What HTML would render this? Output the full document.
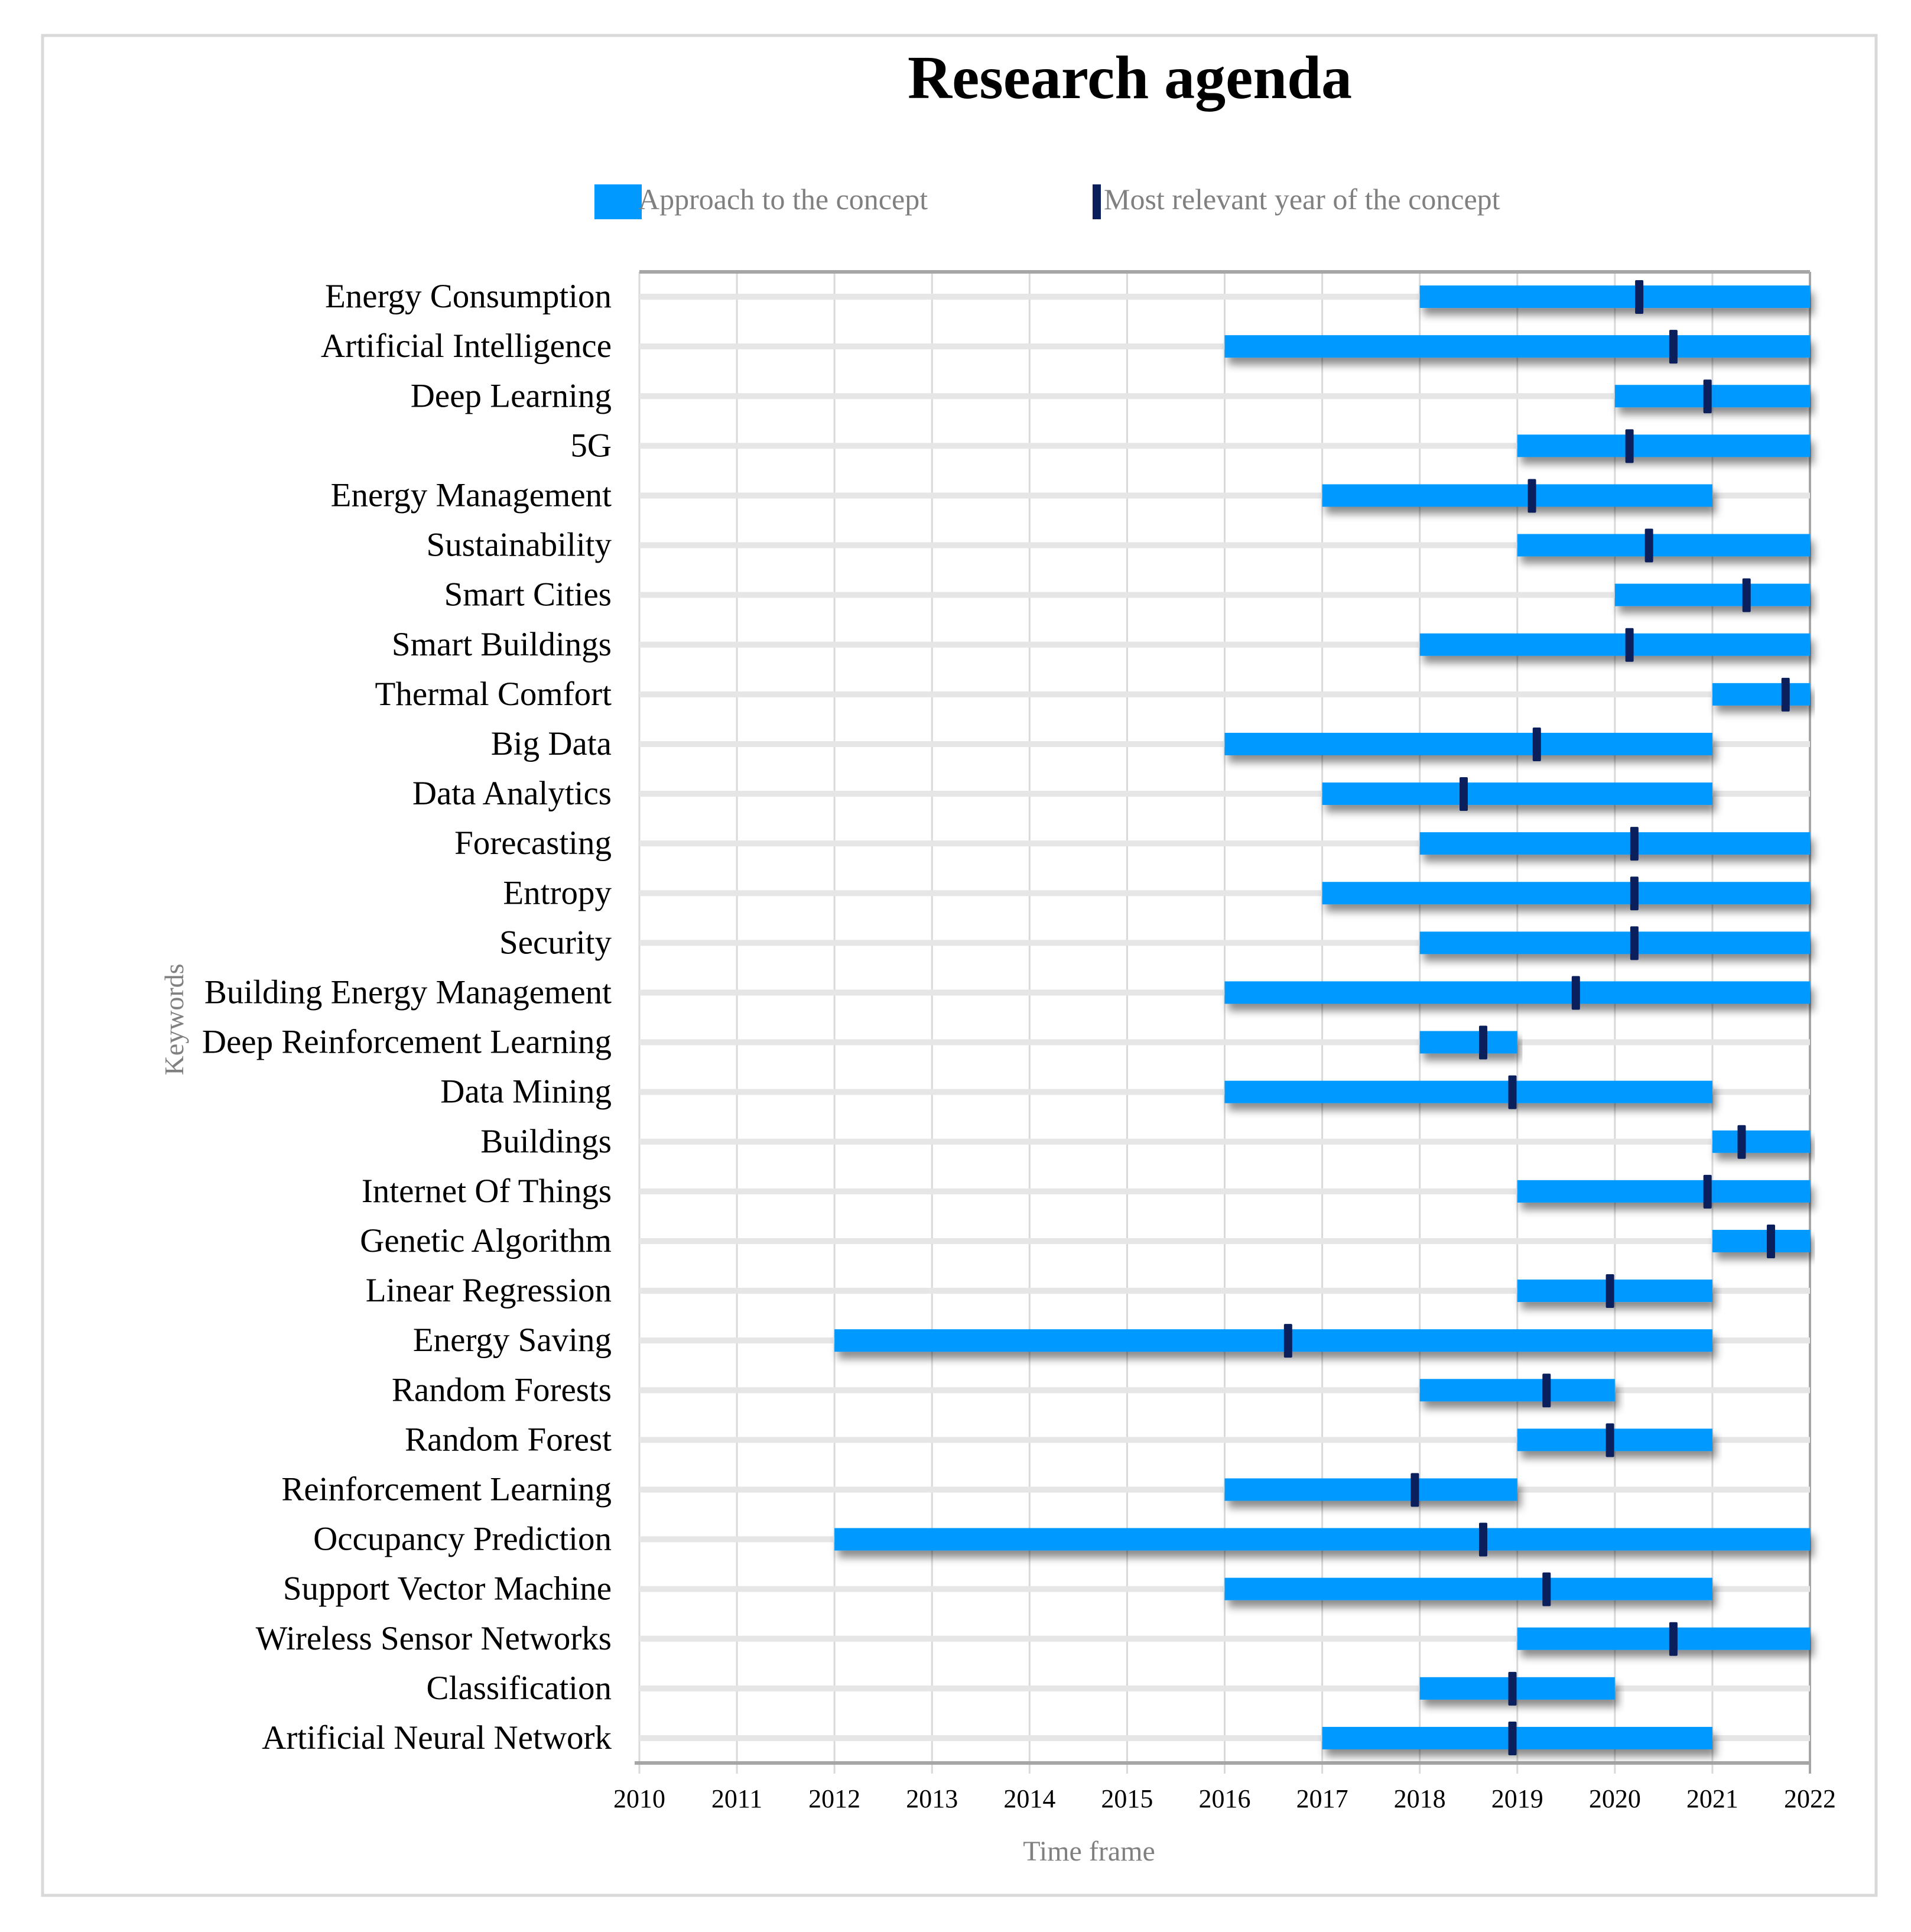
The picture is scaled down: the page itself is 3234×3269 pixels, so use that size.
<!DOCTYPE html>
<html><head><meta charset="utf-8"><style>
html,body{margin:0;padding:0;background:#fff;}
svg{display:block;font-family:"Liberation Serif",serif;}
</style></head><body>
<svg id="chart" width="3234" height="3269" viewBox="0 0 3234 3269" xmlns="http://www.w3.org/2000/svg">
<defs>
<filter id="sh" x="-5%" y="-50%" width="110%" height="250%">
<feDropShadow dx="6" dy="12" stdDeviation="7" flood-color="#000" flood-opacity="0.45"/>
</filter>
</defs>
<rect x="72" y="60" width="3103" height="3147" fill="#fff" stroke="#d9d9d9" stroke-width="5"/>
<text x="1912" y="166" text-anchor="middle" font-size="104" font-weight="bold" fill="#000">Research agenda</text>
<g>
<rect x="1006" y="312" width="80" height="59" fill="#0099ff"/>
<text x="1080" y="354" font-size="50" fill="#808080">Approach to the concept</text>
<rect x="1849" y="312" width="14" height="59" fill="#0a1f5c"/>
<text x="1868" y="354" font-size="50" fill="#808080">Most relevant year of the concept</text>
</g>
<g id="grid"></g>
<g id="bars"></g>
<text x="1843" y="3148" text-anchor="middle" font-size="48" fill="#808080">Time frame</text>
<text transform="translate(310,1725) rotate(-90)" text-anchor="middle" font-size="46" fill="#808080">Keywords</text>
</svg>
<script>
const keywords = ["Energy Consumption","Artificial Intelligence","Deep Learning","5G","Energy Management","Sustainability","Smart Cities","Smart Buildings","Thermal Comfort","Big Data","Data Analytics","Forecasting","Entropy","Security","Building Energy Management","Deep Reinforcement Learning","Data Mining","Buildings","Internet Of Things","Genetic Algorithm","Linear Regression","Energy Saving","Random Forests","Random Forest","Reinforcement Learning","Occupancy Prediction","Support Vector Machine","Wireless Sensor Networks","Classification","Artificial Neural Network"];
const startYears = [2018,2016,2020,2019,2017,2019,2020,2018,2021,2016,2017,2018,2017,2018,2016,2018,2016,2021,2019,2021,2019,2012,2018,2019,2016,2012,2016,2019,2018,2017];
const endYears = [2022,2022,2022,2022,2021,2022,2022,2022,2022,2021,2021,2022,2022,2022,2022,2019,2021,2022,2022,2022,2021,2021,2020,2021,2019,2022,2021,2022,2020,2021];
const relevantYears = [2020.25,2020.6,2020.95,2020.15,2019.15,2020.35,2021.35,2020.15,2021.75,2019.2,2018.45,2020.2,2020.2,2020.2,2019.6,2018.65,2018.95,2021.3,2020.95,2021.6,2019.95,2016.65,2019.3,2019.95,2017.95,2018.65,2019.3,2020.6,2018.95,2018.95];
const tickYears = [2010,2011,2012,2013,2014,2015,2016,2017,2018,2019,2020,2021,2022];

const NS="http://www.w3.org/2000/svg";
const X0=1082,X1=3063,Y0=460,Y1=2983;
const xMin=2010,xMax=2022;
const x=v=>X0+(v-xMin)/(xMax-xMin)*(X1-X0);
const band=(Y1-Y0)/keywords.length;
const y=i=>Y0+band*(i+0.5);
function mk(tag,attrs,parent){const e=document.createElementNS(NS,tag);for(const k in attrs)e.setAttribute(k,attrs[k]);parent.appendChild(e);return e;}
const gridG=document.getElementById('grid'),barsG=document.getElementById('bars');
tickYears.forEach(t=>{
  const g=mk('line',{x1:x(t),x2:x(t),y1:Y0,y2:Y1+18,stroke:t===xMax?'#a6a6a6':'#d9d9d9','stroke-width':t===xMax?4:3},gridG);
  
  
  const tl=mk('text',{x:x(t),y:3058,'text-anchor':'middle','font-size':44,fill:'#000'},gridG);
  tl.textContent=t;
  
  
});
const plotTop=mk('line',{x1:X0,x2:X1,y1:Y0,y2:Y0,stroke:'#a6a6a6','stroke-width':6},gridG);


const xAxisLine=mk('line',{x1:X0-8,x2:X1,y1:Y1,y2:Y1,stroke:'#a6a6a6','stroke-width':6},gridG);


keywords.forEach((k,i)=>{
  const cy=y(i);
  const tr=mk('line',{x1:X0,x2:X1,y1:cy,y2:cy,stroke:'#e6e6e6','stroke-width':10},gridG);
  
  
  const lb=mk('text',{x:1035,y:cy+18,'text-anchor':'end','font-size':57,fill:'#000'},gridG);
  lb.textContent=k;
  
  
  const b=mk('rect',{x:x(startYears[i]),y:cy-19,width:x(endYears[i])-x(startYears[i]),height:38,fill:'#0099ff',filter:'url(#sh)'},barsG);
  
  
});
keywords.forEach((k,i)=>{
  const cy=y(i);
  const m=mk('rect',{x:x(relevantYears[i])-7,y:cy-28,width:14,height:57,fill:'#0a1f5c',rx:2},barsG);
  
  
});
</script>
</body></html>
